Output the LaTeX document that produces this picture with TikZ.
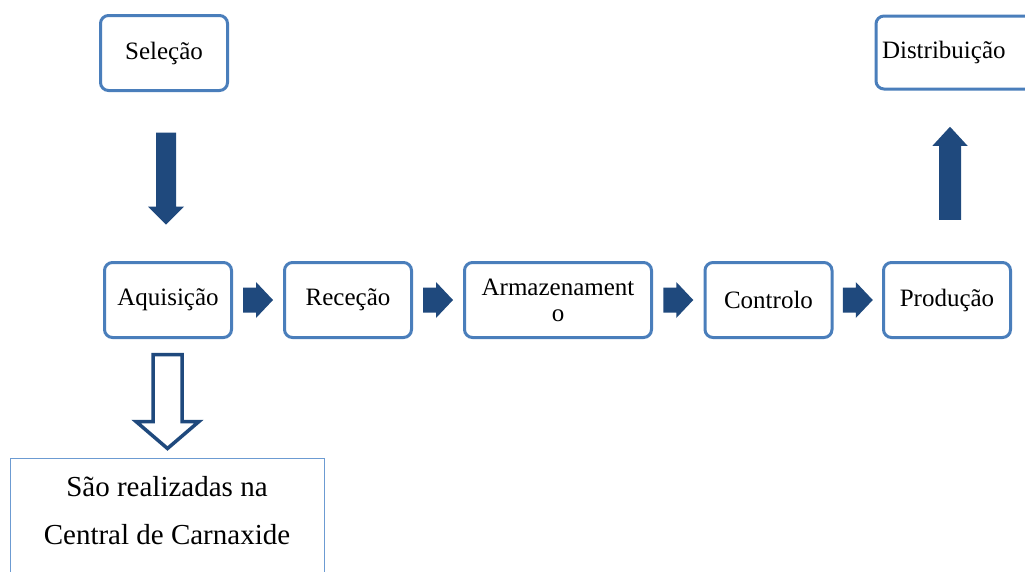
\documentclass[tikz,border=0pt]{standalone}
\usepackage{fontspec}
\setmainfont{Liberation Serif}
\usetikzlibrary{calc}
\definecolor{boxblue}{HTML}{4A7EBB}
\definecolor{arrowblue}{HTML}{1F497D}
\definecolor{noteblue}{HTML}{6C9BD2}
% solid block arrow pointing right, centred on a coordinate
\newcommand\rightblock[1]{%
  \fill[arrowblue] ($(#1)+(-15,-12.5)$) -- ++(13,0) -- ++(0,-5.5) -- ++(17,18)
    -- ++(-17,18) -- ++(0,-5.5) -- ++(-13,0) -- cycle;}
\begin{document}
\begin{tikzpicture}[x=1pt,y=-1pt,
  stage/.style={draw=boxblue, line width=3pt, rounded corners=8pt, fill=white,
    minimum width=127pt, minimum height=75pt, inner sep=0pt, align=center,
    font=\rmfamily\fontsize{25}{26}\selectfont},
  notebox/.style={draw=noteblue, line width=1pt, fill=white,
    minimum width=314pt, minimum height=160pt, inner sep=0pt},
  notetext/.style={inner sep=0pt, align=center, font=\rmfamily\fontsize{29}{48}\selectfont},
]
\useasboundingbox (0,0) rectangle (1025,571);
\clip (0,0) rectangle (1025,571);
\fill[white] (0,0) rectangle (1025,571);

% process stages
\node[stage] (sel) at (164,53) {Seleção};
\node[stage] (aq) at (168,300) {Aquisição};
\node[stage] (rec) at (348,300) {Receção};
\node[stage, minimum width=187pt] (arm) at (558,300) {Armazenament\\o};
\node[stage] (con) at (768.5,300) {Controlo};
\node[stage] (prod) at (947,300) {Produção};
\node[stage, anchor=west, minimum width=0pt, text width=150pt, align=left,
  inner xsep=6pt, minimum height=73pt] (dist) at (874.5,52.5) {Distribuição};

% note below the acquisition stage
\node[notebox, anchor=north] (note) at (167,458) {};
\node[notetext] (notetxt) at ($(note.north)+(0,53)$) {São realizadas na\\Central de Carnaxide};

% small arrows along the chain
\rightblock{$(aq.east)!0.5!(rec.west)$}
\rightblock{$(rec.east)!0.5!(arm.west)$}
\rightblock{$(arm.east)!0.5!(con.west)$}
\rightblock{$(con.east)!0.5!(prod.west)$}

% selection -> acquisition
\coordinate (m1) at ($(sel.south)!0.5!(aq.north)$);
\fill[arrowblue] ($(m1)+(-10,-44)$) -- ++(20,0) -- ++(0,74) -- ++(8,0)
  -- ++(-18,18) -- ++(-18,-18) -- ++(8,0) -- cycle;

% production -> distribution
\coordinate (m2) at ($(prod.north)!0.5!(dist.south west)$);
\coordinate (m2) at ($(prod.north |- m2)+(3,0)$);
\fill[arrowblue] ($(m2)+(-11,44)$) -- ++(22,0) -- ++(0,-74) -- ++(6.5,0)
  -- ++(-17.5,-19) -- ++(-17.5,19) -- ++(6.5,0) -- cycle;

% acquisition -> note (outlined arrow)
\coordinate (m3) at ($(aq.south)!0.5!(note.north)$);
\draw[arrowblue, fill=white, line width=3.5pt, miter limit=10]
  ($(m3)+(-14.5,-44)$) -- ++(29,0) -- ++(0,67) -- ++(17,0)
  -- ++(-31.5,27) -- ++(-31.5,-27) -- ++(17,0) -- cycle;
\end{tikzpicture}
\end{document}
